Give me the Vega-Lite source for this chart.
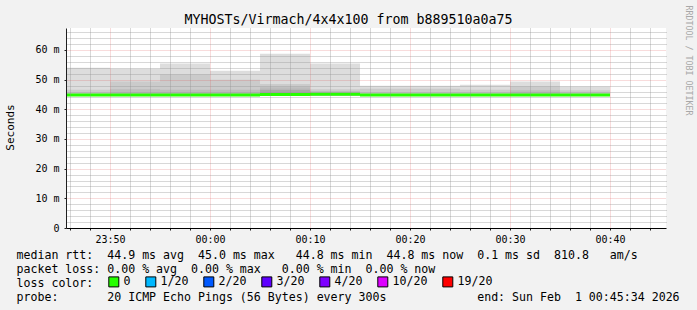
{
  "$schema": "https://vega.github.io/schema/vega-lite/v6.json",
  "width": 600,
  "height": 200,
  "autosize": {"type": "none"},
  "padding": {"left": 66, "top": 28, "right": 31, "bottom": 82},
  "background": "#f2f2f2",
  "config": {
    "view": {"fill": "#ffffff", "stroke": null},
    "font": "DejaVu Sans Mono",
    "axis": {"labelFont": "DejaVu Sans Mono", "titleFont": "DejaVu Sans Mono", "titleFontWeight": "normal"}
  },
  "title": {
    "text": "MYHOSTs/Virmach/4x4x100 from b889510a0a75",
    "font": "DejaVu Sans Mono",
    "fontSize": 13.3,
    "fontWeight": "normal",
    "color": "#000000",
    "anchor": "middle",
    "frame": "group",
    "dx": -17.5,
    "dy": 36.5,
    "baseline": "alphabetic",
    "offset": 4
  },
  "datasets": {
    "smoke": [
      {"t0": "2026-01-31T23:45:00Z", "t1": "2026-01-31T23:50:00Z", "lo": 44.6, "hi": 54.0, "shade": "a"},
      {"t0": "2026-01-31T23:45:00Z", "t1": "2026-01-31T23:50:00Z", "lo": 44.6, "hi": 46.6, "shade": "b"},
      {"t0": "2026-01-31T23:50:00Z", "t1": "2026-01-31T23:55:00Z", "lo": 44.6, "hi": 53.7, "shade": "a"},
      {"t0": "2026-01-31T23:50:00Z", "t1": "2026-01-31T23:55:00Z", "lo": 44.6, "hi": 49.4, "shade": "b"},
      {"t0": "2026-01-31T23:50:00Z", "t1": "2026-01-31T23:55:00Z", "lo": 44.6, "hi": 46.8, "shade": "c"},
      {"t0": "2026-01-31T23:55:00Z", "t1": "2026-02-01T00:00:00Z", "lo": 44.6, "hi": 55.4, "shade": "a"},
      {"t0": "2026-01-31T23:55:00Z", "t1": "2026-02-01T00:00:00Z", "lo": 44.6, "hi": 51.7, "shade": "b"},
      {"t0": "2026-01-31T23:55:00Z", "t1": "2026-02-01T00:00:00Z", "lo": 44.6, "hi": 46.6, "shade": "c"},
      {"t0": "2026-02-01T00:00:00Z", "t1": "2026-02-01T00:05:00Z", "lo": 44.6, "hi": 53.0, "shade": "a"},
      {"t0": "2026-02-01T00:00:00Z", "t1": "2026-02-01T00:05:00Z", "lo": 44.6, "hi": 50.0, "shade": "b"},
      {"t0": "2026-02-01T00:00:00Z", "t1": "2026-02-01T00:05:00Z", "lo": 44.6, "hi": 46.6, "shade": "c"},
      {"t0": "2026-02-01T00:05:00Z", "t1": "2026-02-01T00:10:00Z", "lo": 44.6, "hi": 58.7, "shade": "a"},
      {"t0": "2026-02-01T00:05:00Z", "t1": "2026-02-01T00:10:00Z", "lo": 44.6, "hi": 48.5, "shade": "b"},
      {"t0": "2026-02-01T00:05:00Z", "t1": "2026-02-01T00:10:00Z", "lo": 44.6, "hi": 47.4, "shade": "c"},
      {"t0": "2026-02-01T00:05:00Z", "t1": "2026-02-01T00:10:00Z", "lo": 44.6, "hi": 46.6, "shade": "d"},
      {"t0": "2026-02-01T00:10:00Z", "t1": "2026-02-01T00:15:00Z", "lo": 44.6, "hi": 55.4, "shade": "a"},
      {"t0": "2026-02-01T00:10:00Z", "t1": "2026-02-01T00:15:00Z", "lo": 44.6, "hi": 46.8, "shade": "b"},
      {"t0": "2026-02-01T00:10:00Z", "t1": "2026-02-01T00:15:00Z", "lo": 44.6, "hi": 46.2, "shade": "c"},
      {"t0": "2026-02-01T00:15:00Z", "t1": "2026-02-01T00:20:00Z", "lo": 44.6, "hi": 47.9, "shade": "a"},
      {"t0": "2026-02-01T00:15:00Z", "t1": "2026-02-01T00:20:00Z", "lo": 44.6, "hi": 46.9, "shade": "b"},
      {"t0": "2026-02-01T00:20:00Z", "t1": "2026-02-01T00:25:00Z", "lo": 44.6, "hi": 47.9, "shade": "a"},
      {"t0": "2026-02-01T00:20:00Z", "t1": "2026-02-01T00:25:00Z", "lo": 44.6, "hi": 46.9, "shade": "b"},
      {"t0": "2026-02-01T00:25:00Z", "t1": "2026-02-01T00:30:00Z", "lo": 44.6, "hi": 48.3, "shade": "a"},
      {"t0": "2026-02-01T00:25:00Z", "t1": "2026-02-01T00:30:00Z", "lo": 44.6, "hi": 46.6, "shade": "b"},
      {"t0": "2026-02-01T00:30:00Z", "t1": "2026-02-01T00:35:00Z", "lo": 44.6, "hi": 49.4, "shade": "a"},
      {"t0": "2026-02-01T00:30:00Z", "t1": "2026-02-01T00:35:00Z", "lo": 44.6, "hi": 47.7, "shade": "b"},
      {"t0": "2026-02-01T00:30:00Z", "t1": "2026-02-01T00:35:00Z", "lo": 44.6, "hi": 46.4, "shade": "c"},
      {"t0": "2026-02-01T00:35:00Z", "t1": "2026-02-01T00:40:00Z", "lo": 44.6, "hi": 47.7, "shade": "a"},
      {"t0": "2026-02-01T00:35:00Z", "t1": "2026-02-01T00:40:00Z", "lo": 44.6, "hi": 46.4, "shade": "b"}
    ],
    "median": [
      {"t0": "2026-01-31T23:45:00Z", "t1": "2026-01-31T23:50:00Z", "median": 44.8, "loss": "0"},
      {"t0": "2026-01-31T23:50:00Z", "t1": "2026-01-31T23:55:00Z", "median": 44.8, "loss": "0"},
      {"t0": "2026-01-31T23:55:00Z", "t1": "2026-02-01T00:00:00Z", "median": 44.8, "loss": "0"},
      {"t0": "2026-02-01T00:00:00Z", "t1": "2026-02-01T00:05:00Z", "median": 44.8, "loss": "0"},
      {"t0": "2026-02-01T00:05:00Z", "t1": "2026-02-01T00:10:00Z", "median": 45.0, "loss": "0"},
      {"t0": "2026-02-01T00:10:00Z", "t1": "2026-02-01T00:15:00Z", "median": 45.1, "loss": "0"},
      {"t0": "2026-02-01T00:15:00Z", "t1": "2026-02-01T00:20:00Z", "median": 44.8, "loss": "0"},
      {"t0": "2026-02-01T00:20:00Z", "t1": "2026-02-01T00:25:00Z", "median": 44.8, "loss": "0"},
      {"t0": "2026-02-01T00:25:00Z", "t1": "2026-02-01T00:30:00Z", "median": 44.8, "loss": "0"},
      {"t0": "2026-02-01T00:30:00Z", "t1": "2026-02-01T00:35:00Z", "median": 44.8, "loss": "0"},
      {"t0": "2026-02-01T00:35:00Z", "t1": "2026-02-01T00:40:00Z", "median": 44.8, "loss": "0"}
    ]
  },
  "layer": [
    {
      "data": {"name": "smoke"},
      "mark": {"type": "rect", "clip": true},
      "encoding": {
        "x": {
          "field": "t0",
          "type": "temporal",
          "scale": {"type": "utc", "domain": [1769903136000, 1769906736000]},
          "axis": {
            "orient": "bottom",
            "zindex": 1,
            "values": [1769903160000, 1769903280000, 1769903520000, 1769903640000, 1769903760000, 1769903880000, 1769904120000, 1769904240000, 1769904360000, 1769904480000, 1769904720000, 1769904840000, 1769904960000, 1769905080000, 1769905320000, 1769905440000, 1769905560000, 1769905680000, 1769905920000, 1769906040000, 1769906160000, 1769906280000, 1769906520000, 1769906640000],
            "grid": true,
            "gridColor": "#8f8f8f",
            "gridOpacity": 0.7,
            "gridDash": [1, 1],
            "labels": false,
            "ticks": true,
            "tickSize": 2,
            "tickColor": "#1f1f1f",
            "domain": false,
            "title": [
              "median\u00a0rtt:\u00a0\u00a044.9\u00a0ms\u00a0avg\u00a0\u00a045.0\u00a0ms\u00a0max\u00a0\u00a0\u00a044.8\u00a0ms\u00a0min\u00a0\u00a044.8\u00a0ms\u00a0now\u00a0\u00a00.1\u00a0ms\u00a0sd\u00a0\u00a0810.8\u00a0\u00a0\u00a0am/s",
              "packet\u00a0loss:\u00a00.00\u00a0%\u00a0avg\u00a0\u00a00.00\u00a0%\u00a0max\u00a0\u00a0\u00a00.00\u00a0%\u00a0min\u00a0\u00a00.00\u00a0%\u00a0now",
              "loss\u00a0color:",
              "probe:\u00a0\u00a0\u00a0\u00a0\u00a0\u00a0\u00a020\u00a0ICMP\u00a0Echo\u00a0Pings\u00a0(56\u00a0Bytes)\u00a0every\u00a0300s\u00a0\u00a0\u00a0\u00a0\u00a0\u00a0\u00a0\u00a0\u00a0\u00a0\u00a0\u00a0\u00a0end:\u00a0Sun\u00a0Feb\u00a0\u00a01\u00a000:45:34\u00a02026"
            ],
            "titleFontSize": 11.6,
            "titleColor": "#000000",
            "titleAlign": "left",
            "titleAnchor": "start",
            "titleBaseline": "alphabetic",
            "titleX": -50,
            "titleY": 30.2,
            "titleLineHeight": 14.13
          }
        },
        "x2": {"field": "t1"},
        "y": {
          "field": "lo",
          "type": "quantitative",
          "scale": {"domain": [0, 67.4], "nice": false, "zero": true},
          "axis": {
            "orient": "right",
            "zindex": 1,
            "values": [2, 4, 6, 8, 12, 14, 16, 18, 22, 24, 26, 28, 32, 34, 36, 38, 42, 44, 46, 48, 52, 54, 56, 58, 62, 64, 66],
            "grid": true,
            "gridColor": "#8f8f8f",
            "gridOpacity": 0.7,
            "gridDash": [1, 1],
            "labels": false,
            "ticks": false,
            "domain": false,
            "title": "RRDTOOL / TOBI OETIKER",
            "titleAngle": 90,
            "titleFontSize": 8.3,
            "titleColor": "#a8a8a8",
            "titleX": 21,
            "titleY": 32,
            "titleAlign": "center",
            "titleBaseline": "middle"
          }
        },
        "y2": {"field": "hi"},
        "fill": {
          "field": "shade",
          "type": "nominal",
          "scale": {"domain": ["a", "b", "c", "d"], "range": ["#dddddd", "#cbcbcb", "#bcbcbc", "#a8a8a8"]},
          "legend": null
        }
      }
    },
    {
      "data": {"name": "median"},
      "mark": {"type": "rule", "strokeWidth": 3, "stroke": "#26ff00", "clip": true},
      "encoding": {
        "x": {
          "field": "t0",
          "type": "temporal",
          "axis": {
            "orient": "bottom",
            "zindex": 1,
            "values": [1769903400000, 1769904000000, 1769904600000, 1769905200000, 1769905800000, 1769906400000],
            "format": "%H:%M",
            "grid": true,
            "gridColor": "#de4f4f",
            "gridOpacity": 0.4,
            "gridDash": [1, 1],
            "labelFontSize": 10,
            "labelColor": "#000000",
            "labelPadding": 4,
            "tickSize": 2,
            "tickColor": "#1f1f1f",
            "domainColor": "#000000",
            "domainWidth": 1,
            "title": null
          }
        },
        "x2": {"field": "t1"},
        "y": {
          "field": "median",
          "type": "quantitative",
          "axis": {
            "orient": "left",
            "zindex": 1,
            "values": [0, 10, 20, 30, 40, 50, 60],
            "labelExpr": "datum.value == 0 ? '0' : datum.value + ' m'",
            "grid": true,
            "gridColor": "#de4f4f",
            "gridOpacity": 0.4,
            "gridDash": [1, 1],
            "labelFontSize": 10,
            "labelColor": "#000000",
            "labelPadding": 5,
            "tickSize": 2,
            "tickColor": "#1f1f1f",
            "domainColor": "#1f1f1f",
            "title": "Seconds",
            "titleFontSize": 11,
            "titleColor": "#000000",
            "titleX": -56,
            "titleY": 99,
            "titleAlign": "center",
            "titleBaseline": "middle"
          }
        }
      }
    },
    {
      "data": {"name": "median"},
      "mark": {"type": "rect", "clip": true},
      "encoding": {
        "x": {"field": "t0", "type": "temporal", "axis": null},
        "x2": {"field": "t1"},
        "y": {"field": "median", "type": "quantitative", "axis": null},
        "y2": {"field": "median"},
        "color": {
          "field": "loss",
          "type": "nominal",
          "scale": {
            "domain": ["0", "1/20", "2/20", "3/20", "4/20", "10/20", "19/20"],
            "range": ["#26ff00", "#00b8ff", "#0059ff", "#5e00ff", "#7e00ff", "#dd00ff", "#ff0000"]
          },
          "legend": {
            "orient": "none",
            "legendX": 42,
            "legendY": 248,
            "direction": "horizontal",
            "title": null,
            "padding": 0,
            "symbolType": "square",
            "symbolSize": 100,
            "symbolStrokeColor": "#000000",
            "symbolStrokeWidth": 1,
            "symbolOpacity": 1,
            "labelFont": "DejaVu Sans Mono",
            "labelFontSize": 11.6,
            "labelColor": "#000000",
            "labelOffset": 4,
            "columnPadding": 12,
            "encode": {
              "symbols": {
                "update": {
                  "stroke": {"value": "#000000"},
                  "strokeWidth": {"value": 1},
                  "opacity": {"value": 1}
                }
              }
            }
          }
        }
      }
    }
  ],
  "resolve": {"axis": {"x": "independent", "y": "independent"}}
}
